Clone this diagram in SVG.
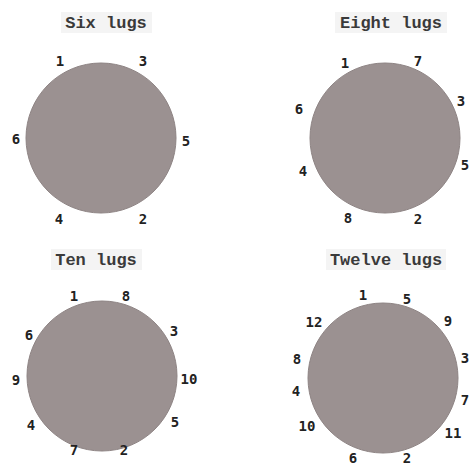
<svg xmlns="http://www.w3.org/2000/svg" width="470" height="466" viewBox="0 0 470 466">
<style>
.title{font-family:"Liberation Mono","Courier New",monospace;font-size:17px;font-weight:bold;fill:#3a3a3a;text-anchor:middle}
.n{font-family:"DejaVu Sans Mono",monospace;font-size:14px;font-weight:bold;fill:#222;text-anchor:middle}
.wheel{fill:#9b9191;stroke:#8e8484;stroke-width:1}
.tb{fill:#f4f4f4}
</style>
<rect width="470" height="466" fill="#fff"/>
<g id="six">
<rect class="tb" x="61" y="12" width="91" height="21"/>
<text class="title" x="106" y="28">Six lugs</text>
<circle class="wheel" cx="101" cy="138" r="75"/>
<text class="n" x="60" y="66">1</text>
<text class="n" x="143" y="66">3</text>
<text class="n" x="186" y="146">5</text>
<text class="n" x="143" y="224">2</text>
<text class="n" x="59" y="224">4</text>
<text class="n" x="16" y="144">6</text>
</g>
<g id="eight">
<rect class="tb" x="335" y="12" width="112" height="21"/>
<text class="title" x="391" y="28">Eight lugs</text>
<circle class="wheel" cx="385" cy="138" r="75"/>
<text class="n" x="345" y="68">1</text>
<text class="n" x="418" y="66">7</text>
<text class="n" x="461" y="106">3</text>
<text class="n" x="465" y="170">5</text>
<text class="n" x="418" y="224">2</text>
<text class="n" x="348" y="223">8</text>
<text class="n" x="303" y="176">4</text>
<text class="n" x="299" y="114">6</text>
</g>
<g id="ten">
<rect class="tb" x="51" y="249" width="91" height="21"/>
<text class="title" x="96" y="265">Ten lugs</text>
<circle class="wheel" cx="102" cy="376" r="75"/>
<text class="n" x="74" y="301">1</text>
<text class="n" x="126" y="301">8</text>
<text class="n" x="174" y="336">3</text>
<text class="n" x="189" y="384">10</text>
<text class="n" x="175" y="427">5</text>
<text class="n" x="124" y="455">2</text>
<text class="n" x="74" y="455">7</text>
<text class="n" x="31" y="430">4</text>
<text class="n" x="16" y="385">9</text>
<text class="n" x="29" y="340">6</text>
</g>
<g id="twelve">
<rect class="tb" x="326" y="249" width="120" height="21"/>
<text class="title" x="386" y="265">Twelve lugs</text>
<circle class="wheel" cx="383" cy="378" r="75"/>
<text class="n" x="363" y="300">1</text>
<text class="n" x="407" y="304">5</text>
<text class="n" x="448" y="326">9</text>
<text class="n" x="465" y="363">3</text>
<text class="n" x="465" y="405">7</text>
<text class="n" x="453" y="438">11</text>
<text class="n" x="407" y="463">2</text>
<text class="n" x="353" y="463">6</text>
<text class="n" x="307" y="431">10</text>
<text class="n" x="296" y="396">4</text>
<text class="n" x="297" y="364">8</text>
<text class="n" x="314" y="327">12</text>
</g>
<g id="connectors"/>
</svg>
